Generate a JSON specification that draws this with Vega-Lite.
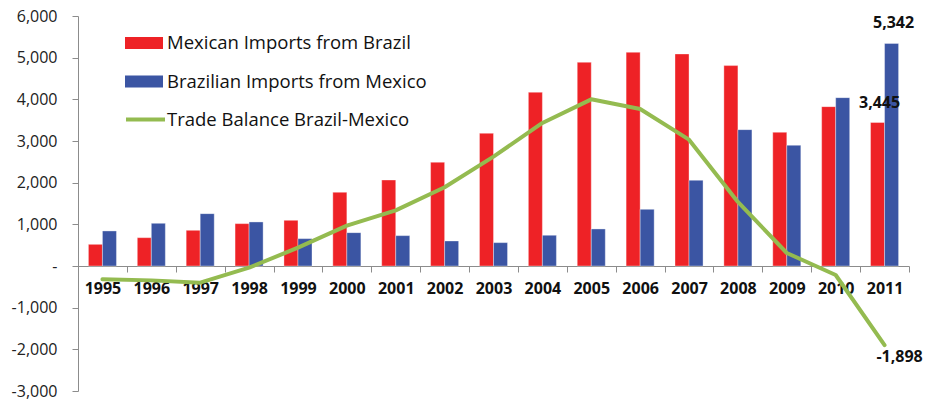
{
  "$schema": "https://vega.github.io/schema/vega-lite/v6.json",
  "autosize": "none",
  "width": 831,
  "height": 375,
  "padding": {"left": 78, "top": 16, "right": 19, "bottom": 10},
  "background": "white",
  "config": {
    "view": {"stroke": null},
    "font": "Open Sans",
    "locale": {"number": {"decimal": ".", "thousands": ",", "grouping": [3], "currency": ["$", ""], "minus": "-"}}
  },
  "datasets": {
    "bars": [
      {"year": "1995", "series": "Mexican Imports from Brazil", "value": 520},
      {"year": "1996", "series": "Mexican Imports from Brazil", "value": 680},
      {"year": "1997", "series": "Mexican Imports from Brazil", "value": 857},
      {"year": "1998", "series": "Mexican Imports from Brazil", "value": 1017},
      {"year": "1999", "series": "Mexican Imports from Brazil", "value": 1097},
      {"year": "2000", "series": "Mexican Imports from Brazil", "value": 1769},
      {"year": "2001", "series": "Mexican Imports from Brazil", "value": 2064},
      {"year": "2002", "series": "Mexican Imports from Brazil", "value": 2490},
      {"year": "2003", "series": "Mexican Imports from Brazil", "value": 3185},
      {"year": "2004", "series": "Mexican Imports from Brazil", "value": 4170},
      {"year": "2005", "series": "Mexican Imports from Brazil", "value": 4889},
      {"year": "2006", "series": "Mexican Imports from Brazil", "value": 5129},
      {"year": "2007", "series": "Mexican Imports from Brazil", "value": 5089},
      {"year": "2008", "series": "Mexican Imports from Brazil", "value": 4810},
      {"year": "2009", "series": "Mexican Imports from Brazil", "value": 3209},
      {"year": "2010", "series": "Mexican Imports from Brazil", "value": 3825},
      {"year": "2011", "series": "Mexican Imports from Brazil", "value": 3445},
      {"year": "1995", "series": "Brazilian Imports from Mexico", "value": 841},
      {"year": "1996", "series": "Brazilian Imports from Mexico", "value": 1025},
      {"year": "1997", "series": "Brazilian Imports from Mexico", "value": 1257},
      {"year": "1998", "series": "Brazilian Imports from Mexico", "value": 1057},
      {"year": "1999", "series": "Brazilian Imports from Mexico", "value": 657},
      {"year": "2000", "series": "Brazilian Imports from Mexico", "value": 801},
      {"year": "2001", "series": "Brazilian Imports from Mexico", "value": 729},
      {"year": "2002", "series": "Brazilian Imports from Mexico", "value": 601},
      {"year": "2003", "series": "Brazilian Imports from Mexico", "value": 561},
      {"year": "2004", "series": "Brazilian Imports from Mexico", "value": 737},
      {"year": "2005", "series": "Brazilian Imports from Mexico", "value": 889},
      {"year": "2006", "series": "Brazilian Imports from Mexico", "value": 1361},
      {"year": "2007", "series": "Brazilian Imports from Mexico", "value": 2057},
      {"year": "2008", "series": "Brazilian Imports from Mexico", "value": 3273},
      {"year": "2009", "series": "Brazilian Imports from Mexico", "value": 2897},
      {"year": "2010", "series": "Brazilian Imports from Mexico", "value": 4041},
      {"year": "2011", "series": "Brazilian Imports from Mexico", "value": 5342}
    ],
    "balance": [
      {"year": "1995", "series": "Trade Balance Brazil-Mexico", "value": -320},
      {"year": "1996", "series": "Trade Balance Brazil-Mexico", "value": -345},
      {"year": "1997", "series": "Trade Balance Brazil-Mexico", "value": -400},
      {"year": "1998", "series": "Trade Balance Brazil-Mexico", "value": -40},
      {"year": "1999", "series": "Trade Balance Brazil-Mexico", "value": 440},
      {"year": "2000", "series": "Trade Balance Brazil-Mexico", "value": 968},
      {"year": "2001", "series": "Trade Balance Brazil-Mexico", "value": 1335},
      {"year": "2002", "series": "Trade Balance Brazil-Mexico", "value": 1889},
      {"year": "2003", "series": "Trade Balance Brazil-Mexico", "value": 2624},
      {"year": "2004", "series": "Trade Balance Brazil-Mexico", "value": 3433},
      {"year": "2005", "series": "Trade Balance Brazil-Mexico", "value": 4000},
      {"year": "2006", "series": "Trade Balance Brazil-Mexico", "value": 3768},
      {"year": "2007", "series": "Trade Balance Brazil-Mexico", "value": 3032},
      {"year": "2008", "series": "Trade Balance Brazil-Mexico", "value": 1537},
      {"year": "2009", "series": "Trade Balance Brazil-Mexico", "value": 312},
      {"year": "2010", "series": "Trade Balance Brazil-Mexico", "value": -216},
      {"year": "2011", "series": "Trade Balance Brazil-Mexico", "value": -1898}
    ]
  },
  "encoding": {
    "x": {
      "field": "year",
      "type": "nominal",
      "scale": {"paddingInner": 0, "paddingOuter": 0},
      "axis": {
        "title": null,
        "orient": "bottom",
        "offset": -125,
        "labelAngle": 0,
        "tickBand": "extent",
        "domainColor": "#8c8c8c",
        "tickColor": "#8c8c8c",
        "tickSize": 6,
        "labelFont": "Open Sans",
        "labelFontSize": 16,
        "labelFontWeight": "bold",
        "labelColor": "#111111",
        "labelPadding": 8,
        "labelBaseline": "top"
      }
    },
    "y": {
      "field": "value",
      "type": "quantitative",
      "scale": {"domain": [-3000, 6000], "nice": false, "zero": false},
      "axis": {
        "title": null,
        "values": [-3000, -2000, -1000, 0, 1000, 2000, 3000, 4000, 5000, 6000],
        "grid": false,
        "domainColor": "#8c8c8c",
        "tickColor": "#8c8c8c",
        "tickSize": 6,
        "labelPadding": 15,
        "labelFont": "Open Sans",
        "labelFontSize": 16,
        "labelColor": "#222222",
        "labelExpr": "datum.value == 0 ? '-  ' : format(datum.value, ',')"
      }
    }
  },
  "layer": [
    {
      "data": {"name": "bars"},
      "mark": {"type": "bar", "stroke": "white", "strokeWidth": 0.6, "strokeOpacity": 0.6},
      "encoding": {
        "xOffset": {
          "field": "series",
          "type": "nominal",
          "sort": ["Mexican Imports from Brazil", "Brazilian Imports from Mexico"],
          "scale": {"paddingInner": 0, "paddingOuter": 0.743}
        },
        "fill": {
          "field": "series",
          "type": "nominal",
          "sort": ["Mexican Imports from Brazil", "Brazilian Imports from Mexico"],
          "scale": {
            "domain": ["Mexican Imports from Brazil", "Brazilian Imports from Mexico"],
            "range": ["#ee2226", "#3b55a3"]
          },
          "legend": {
            "orient": "none",
            "legendX": 47,
            "legendY": 8,
            "title": null,
            "symbolType": "M-1,-0.32H1V0.32H-1Z",
            "symbolSize": 1444,
            "symbolStrokeWidth": 0,
            "symbolOpacity": 1,
            "labelFont": "Open Sans",
            "labelFontSize": 18.5,
            "labelColor": "#111111",
            "labelOffset": 4,
            "rowPadding": 9.5,
            "labelLimit": 400
          }
        }
      }
    },
    {
      "data": {"name": "balance"},
      "mark": {"type": "line", "strokeWidth": 4, "strokeJoin": "round", "strokeCap": "round"},
      "encoding": {
        "stroke": {
          "field": "series",
          "type": "nominal",
          "scale": {"domain": ["Trade Balance Brazil-Mexico"], "range": ["#94bb50"]},
          "legend": {
            "orient": "none",
            "legendX": 46,
            "legendY": 82,
            "title": null,
            "symbolType": "stroke",
            "symbolSize": 1521,
            "symbolStrokeWidth": 4,
            "labelFont": "Open Sans",
            "labelFontSize": 18.5,
            "labelColor": "#111111",
            "labelOffset": 0,
            "labelLimit": 400
          }
        }
      }
    },
    {
      "data": {"name": "bars"},
      "transform": [{"filter": "datum.year == '2011' && datum.series == 'Mexican Imports from Brazil'"}],
      "mark": {"type": "text", "font": "Open Sans", "fontSize": 16, "fontWeight": "bold", "color": "#111111", "baseline": "middle", "dy": -19, "dx": -5},
      "encoding": {
        "text": {"field": "value", "type": "quantitative", "format": ","}
      }
    },
    {
      "data": {"name": "bars"},
      "transform": [{"filter": "datum.year == '2011' && datum.series == 'Brazilian Imports from Mexico'"}],
      "mark": {"type": "text", "font": "Open Sans", "fontSize": 16, "fontWeight": "bold", "color": "#111111", "baseline": "middle", "dy": -20, "dx": 9},
      "encoding": {
        "text": {"field": "value", "type": "quantitative", "format": ","}
      }
    },
    {
      "data": {"name": "balance"},
      "transform": [{"filter": "datum.year == '2011'"}],
      "mark": {"type": "text", "font": "Open Sans", "fontSize": 16, "fontWeight": "bold", "color": "#111111", "baseline": "middle", "dy": 12, "dx": 15},
      "encoding": {
        "text": {"field": "value", "type": "quantitative", "format": ","}
      }
    }
  ]
}
